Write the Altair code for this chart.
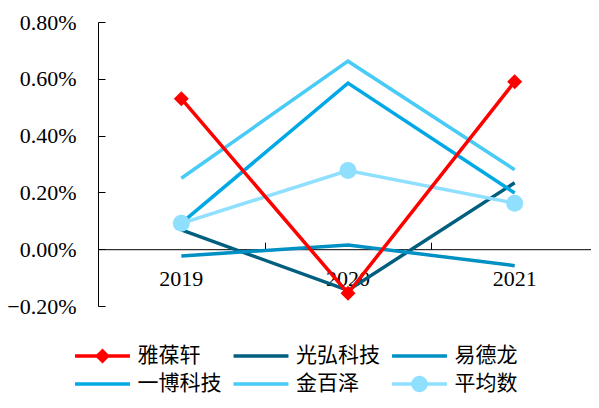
import altair as alt
import pandas as pd

years = ["2019", "2020", "2021"]
companies = ["雅葆轩", "光弘科技", "易德龙", "一博科技", "金百泽", "平均数"]
# values in percent
v_yabaoxuan = [0.530, -0.155, 0.590]
v_guanghong = [0.068, -0.145, 0.234]
v_yidelong = [-0.024, 0.015, -0.058]
v_yibo = [0.092, 0.585, 0.198]
v_jinbaize = [0.250, 0.662, 0.280]
v_avg = [0.091, 0.277, 0.162]
colors = ["#FF0000", "#005E7F", "#0090C4", "#00A9E6", "#48CBF6", "#8FDFFF"]
y_ticks = [-0.002, 0.0, 0.002, 0.004, 0.006, 0.008]

series = {
    "雅葆轩": v_yabaoxuan,
    "光弘科技": v_guanghong,
    "易德龙": v_yidelong,
    "一博科技": v_yibo,
    "金百泽": v_jinbaize,
    "平均数": v_avg,
}
draw_order = ["光弘科技", "易德龙", "一博科技", "金百泽", "平均数", "雅葆轩"]
rows = []
for c in draw_order:
    for i, yr in enumerate(years):
        rows.append({"company": c, "year": yr, "value": series[c][i] / 100.0})
df = pd.DataFrame(rows)

W, H = 500, 284
SERIF = "Liberation Serif"
CJK = "Noto Sans CJK SC"

x_scale = alt.Scale(type="band", domain=years, paddingInner=0, paddingOuter=0)
y_scale = alt.Scale(domain=[-0.002, 0.008], nice=False, zero=False)
color_scale = alt.Scale(domain=companies, range=colors)

# legend symbol paths (unit = sqrt(symbolSize)/2 px)
line_path = "M-1.83,-0.117H1.83V0.117H-1.83Z"
diamond_path = line_path + " M0,-0.5L0.5,0L0,0.5L-0.5,0Z"
circle_path = line_path + " M-0.55,0A0.55,0.55 0 1,1 0.55,0A0.55,0.55 0 1,1 -0.55,0Z"
shape_range = [diamond_path, line_path, line_path, line_path, line_path, circle_path]

lines = alt.Chart(df).mark_line(strokeWidth=3.5).encode(
    x=alt.X("year:O", scale=x_scale, sort=years,
            axis=alt.Axis(orient="bottom", offset=-H * 0.2, ticks=False, tickSize=0,
                          domain=True, domainColor="black", domainWidth=1,
                          labelPadding=19, labelFont=SERIF, labelFontSize=22,
                          labelColor="black", labelAngle=0, title=None, grid=False)),
    y=alt.Y("value:Q", scale=y_scale,
            axis=alt.Axis(orient="left", values=y_ticks, format=".2%", ticks=False,
                          tickSize=0, domain=True, domainColor="black", domainWidth=1,
                          labelPadding=22, labelFont=SERIF, labelFontSize=22,
                          labelColor="black", title=None, grid=False)),
    stroke=alt.Stroke("company:N", sort=companies, scale=alt.Scale(range=colors), legend=None),
)

diamonds = alt.Chart(df).transform_filter(alt.datum.company == "雅葆轩").mark_point(
    shape="diamond", filled=True, size=225, opacity=1, color=colors[0]
).encode(
    x=alt.X("year:O", scale=x_scale, sort=years,
            axis=alt.Axis(orient="top", offset=-H * 0.8, labels=False, domain=False,
                          ticks=True, tickSize=7, tickBand="extent", tickColor="black",
                          title=None, grid=False)),
    y=alt.Y("value:Q", scale=y_scale,
            axis=alt.Axis(orient="right", offset=-W, labels=False, domain=False,
                          ticks=True, tickSize=7, values=y_ticks, tickColor="black",
                          title=None, grid=False)),
)

circles = alt.Chart(df).transform_filter(alt.datum.company == "平均数").mark_point(
    shape="circle", filled=True, size=289, opacity=1, color=colors[5]
).encode(
    x=alt.X("year:O", scale=x_scale, sort=years, axis=None),
    y=alt.Y("value:Q", scale=y_scale, axis=None),
)

leg = alt.Legend(
    title=None, orient="none", legendX=-10.5, legendY=319, columns=3,
    direction="horizontal", symbolSize=900, symbolStrokeWidth=0, symbolOpacity=1,
    labelFont=CJK, labelFontSize=21, labelColor="black", labelOffset=20,
    columnPadding=11.5, rowPadding=3, padding=0,
)

legend_layer = alt.Chart(df).mark_point(filled=True, opacity=0, size=10).encode(
    x=alt.X("year:O", scale=x_scale, sort=years, axis=None),
    y=alt.Y("value:Q", scale=y_scale, axis=None),
    color=alt.Color("company:N", scale=color_scale, legend=leg),
    shape=alt.Shape("company:N", scale=alt.Scale(domain=companies, range=shape_range), legend=leg),
)

chart = alt.layer(lines, diamonds, circles, legend_layer).resolve_axis(
    x="independent", y="independent"
).properties(
    width=W, height=H,
    padding={"left": 90, "top": 14, "right": -7, "bottom": 94},
    autosize=alt.AutoSizeParams(type="none"),
).configure_view(stroke=None)

chart.save("out.html", embed_options={"renderer": "svg", "actions": False})
